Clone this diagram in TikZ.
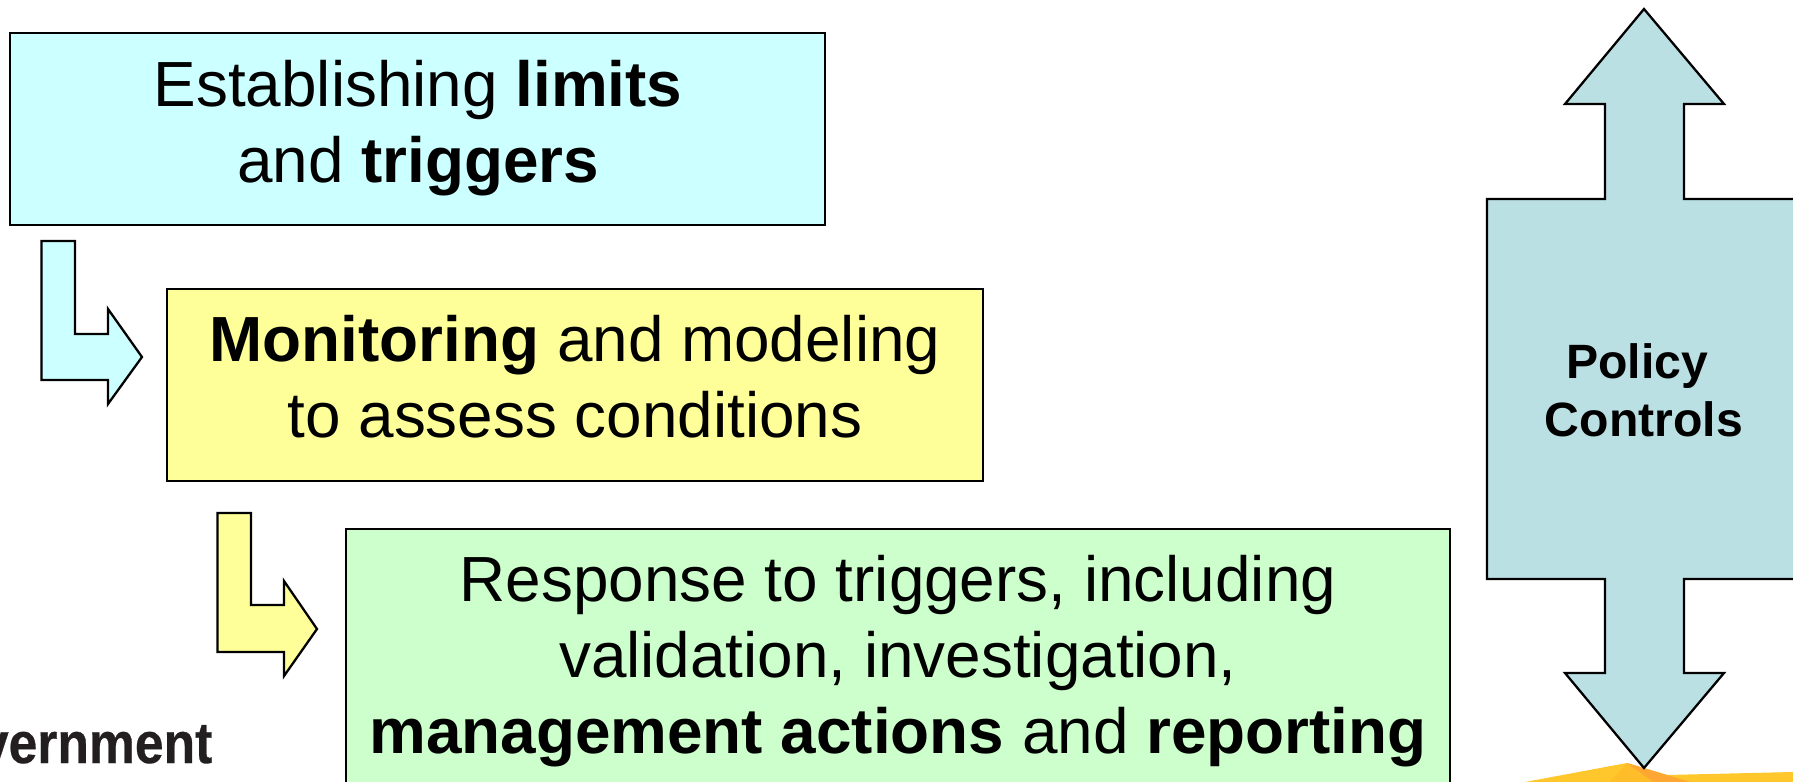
\documentclass[tikz,border=0pt]{standalone}
\usepackage{fontspec}
\setmainfont{Liberation Sans}
\newfontfamily\logofont[BoldFeatures={FakeBold=0.5}]{Liberation Sans}
\definecolor{cyanbox}{HTML}{CCFFFF}
\definecolor{yellowbox}{HTML}{FFFF99}
\definecolor{greenbox}{HTML}{CCFFCC}
\definecolor{policyblue}{HTML}{BBE0E3}
\definecolor{logoink}{HTML}{231F20}
\definecolor{flashlight}{HTML}{FFC72C}
\definecolor{flashmid}{HTML}{FFBD2A}
\definecolor{flashdark}{HTML}{FFA733}
\tikzstyle{box}=[rectangle,draw,line width=0.65pt,inner sep=0pt,minimum height=1.92cm]
\tikzstyle{boxtext}=[inner sep=0pt,align=center,font=\fontsize{18.15}{21.6}\selectfont]
\tikzstyle{blockarrow}=[draw,line width=0.65pt,line join=miter]
\begin{document}
\begin{tikzpicture}[x=0.01cm,y=-0.01cm]
\useasboundingbox (0,0) rectangle (1793,782);
\clip (0,0) rectangle (1793,782);

% flash at the bottom edge
\fill[flashlight] (1525,782) -- (1627,763) -- (1667,775) -- (1793,772) -- (1793,782) -- cycle;
\fill[flashmid] (1627,763) -- (1610,782) -- (1653,782) -- cycle;
\fill[flashdark] (1627,763) -- (1667,775) -- (1690,782) -- (1653,782) -- cycle;

\node[box,fill=cyanbox,minimum width=8.15cm] (est) at (417.5,129) {};
\node[boxtext] (esttext) at (418,128) {Establishing \textbf{limits}\\and \textbf{triggers}};
\node[box,fill=yellowbox,minimum width=8.15cm] (mon) at (575,385) {};
\node[boxtext] (montext) at (575,377) {\textbf{Monitoring} and modeling\\to assess conditions};
\node[box,fill=greenbox,minimum width=11.04cm,minimum height=2.82cm] (rsp) at (898,670) {};
\node[boxtext] (rsptext) at (898,661.5) {Response to triggers, including\\validation, investigation,\\\textbf{management actions} and \textbf{reporting}};

\draw[blockarrow,fill=cyanbox] (41.5,241) -- (75,241) -- (75,334) -- (108,334) -- (108,309) -- (142,357) -- (108,404) -- (108,380) -- (41.5,380) -- cycle;
\draw[blockarrow,fill=yellowbox] (217.5,513) -- (251,513) -- (251,605) -- (284,605) -- (284,581) -- (317,629) -- (284,676) -- (284,652) -- (217.5,652) -- cycle;

\draw[blockarrow,fill=policyblue] (1644,9) -- (1724,104) -- (1684,104) -- (1684,199) -- (1802,199) -- (1802,579) -- (1684,579) -- (1684,673) -- (1724,673) -- (1644,768) -- (1565,673) -- (1605,673) -- (1605,579) -- (1487,579) -- (1487,199) -- (1605,199) -- (1605,104) -- (1565,104) -- cycle;
\node[align=center,inner sep=0pt,font=\fontsize{13.7}{16.5}\selectfont\bfseries] (pol) at (1644,390) {Policy\kern3.8pt\\Controls};

\node[anchor=base east,inner sep=0pt,xscale=0.89,text=logoink,font=\fontsize{16.5}{18}\selectfont\logofont\bfseries] (gov) at (213,763) {vernment};
\end{tikzpicture}
\end{document}
